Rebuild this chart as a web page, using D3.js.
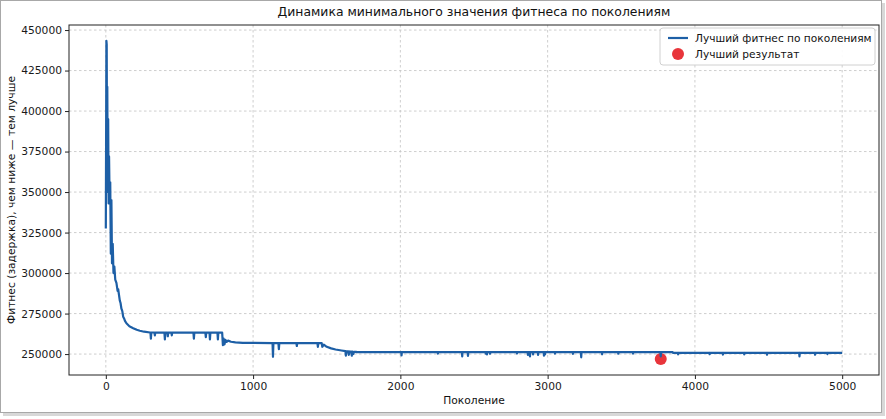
<!DOCTYPE html>
<html><head><meta charset="utf-8">
<script src="https://cdn.jsdelivr.net/npm/d3@7"></script>
<style>
html,body{margin:0;padding:0;background:#fff;}
svg{display:block;font-family:"DejaVu Sans",sans-serif;}
</style></head>
<body>
<svg id="chart" width="886" height="419"></svg>
<script>
// ---- data ----
const titleText = "Динамика минимального значения фитнеса по поколениям";
const xLabel = "Поколение";
const yLabel = "Фитнес (задержка), чем ниже — тем лучше";
const seriesName = "Лучший фитнес по поколениям";
const bestName = "Лучший результат";
const xTicks = [0, 1000, 2000, 3000, 4000, 5000];
const yTicks = [250000, 275000, 300000, 325000, 350000, 375000, 400000, 425000, 450000];

// early convergence phase [generation, fitness]
const earlyPhase = [
 [0,327500],[4,443300],[6,441000],[8,378000],[10,415000],[13,350000],[16,395000],[19,343000],
 [22,372000],[26,344000],[30,356000],[34,312000],[38,345000],[42,306000],[47,318000],[52,300000],
 [58,304000],[64,296000],[72,294000],[80,289000],[84,290000],[95,283000],[100,281500],[106,278000],
 [112,276500],[118,273000],[124,272000],[130,270500],
 [140,269000],[160,267200],[186,266000],[210,265000],[231,264400],[260,263800],[300,263300]
];
// first plateau with dips
const plateau1 = [
 [303,263300],[306,259500],[309,263300],[330,263300],[333,261500],[336,263200],[398,263200],[401,259000],
 [404,263200],[418,263200],[421,261000],[424,263200],[445,263200],[448,261500],[451,263200],[595,263200],
 [598,259500],[601,263200],[676,263200],[679,260500],[682,263200],[704,263200],[707,259000],[710,263200],
 [758,263200],[761,259000],[764,263200],[790,263200]
];
// transition around generation 800
const transition1 = [
 [795,255500],[800,259500],[806,256000],[812,258800],[820,257500],[830,258300],[850,257600],
 [880,257200],[930,256900]
];
// second plateau with dips
const plateau2 = [
 [1132,256800],[1135,248300],[1138,256800],[1172,256800],[1175,253000],[1178,256800],[1294,256800],
 [1297,255000],[1300,256800],[1437,256800],[1440,254500],[1443,256800],[1466,256700]
];
// decline after generation 1466
const transition2 = [
 [1470,254500],[1480,255800],[1500,254500],[1530,253500],[1560,252800],[1600,252200],[1627,251800],
 [1630,249000],[1635,251700],[1647,251700],[1650,249500],[1655,251600],[1667,251500],[1670,249000],
 [1675,251500],[1680,250000],[1685,251400],[1700,251300]
];
// third plateau, dips [generation, dip value]
const plateau3Level = 251200;
const plateau3Dips = [
 [2008,249200],[2255,250300],[2420,248600],[2459,248900],[2580,250300],[2588,249800],[2609,250200],
 [2792,250400],[2866,249500],[2880,248600],[2901,249800],[2935,249500],[2975,249000],[2982,249800],
 [3050,250300],[3172,250100],[3228,248000],[3370,249900],[3480,250200],[3580,250300],[3768,248600]
];
const plateau4Start = 3850;
const plateau4Level = 250700;
const plateau4Dips = [
 [3886,249800],[4100,249900],[4190,249700],[4335,249800],[4490,249600],[4710,248600],[4816,249600],[4900,250000]
];
const lastGeneration = 5000;
const bestPoint = [3768, 246900];

// ---- assemble series ----
function dipsOn(level, dips){
  const out = [];
  dips.forEach(([g,v]) => { out.push([g-2, level],[g, v],[g+2, level]); });
  return out;
}
const series = [].concat(
  earlyPhase, plateau1, transition1, plateau2, transition2,
  [[1700, plateau3Level]], dipsOn(plateau3Level, plateau3Dips), [[plateau4Start-1, plateau3Level],[plateau4Start+1, plateau4Level]],
  dipsOn(plateau4Level, plateau4Dips), [[lastGeneration, plateau4Level]]
);

// ---- layout ----
const svg = d3.select("#chart");
const m = {l:69, r:879, t:25, b:375};

// frame with soft shadow
svg.append("rect").attr("x",3).attr("y",3).attr("width",882).attr("height",413).attr("fill","#d8d8d8");
svg.append("rect").attr("x",0.5).attr("y",0.5).attr("width",881).attr("height",412)
  .attr("fill","#fff").attr("stroke","#a8a8a8").attr("stroke-width",1);

const allY = series.map(d=>d[1]).concat([bestPoint[1]]);
const yMin = d3.min(allY), yMax = d3.max(allY), yPad = (yMax-yMin)*0.05;
const x = d3.scaleLinear().domain([-250, 5250]).range([m.l, m.r]);
const y = d3.scaleLinear().domain([yMin-yPad, yMax+yPad]).range([m.b, m.t]);

// grid
const grid = svg.append("g");
xTicks.forEach(t => grid.append("line").attr("x1",x(t)).attr("x2",x(t)).attr("y1",m.t).attr("y2",m.b)
  .attr("stroke","#c8c8c8").attr("stroke-width",0.9).attr("stroke-dasharray","2.5,2.5"));
yTicks.forEach(t => grid.append("line").attr("x1",m.l).attr("x2",m.r).attr("y1",y(t)).attr("y2",y(t))
  .attr("stroke","#c8c8c8").attr("stroke-width",0.9).attr("stroke-dasharray","2.5,2.5"));

// axes
const xAxis = svg.append("g").attr("transform",`translate(0,${m.b})`)
  .call(d3.axisBottom(x).tickValues(xTicks).tickSize(4).tickPadding(3).tickFormat(d3.format("d")));
const yAxis = svg.append("g").attr("transform",`translate(${m.l},0)`)
  .call(d3.axisLeft(y).tickValues(yTicks).tickSize(4).tickPadding(3).tickFormat(d3.format("d")));
[xAxis,yAxis].forEach(a => {
  a.select(".domain").remove();
  a.selectAll("line").attr("stroke","#222");
  a.selectAll("text").attr("fill","#1a1a1a").style("font-size","10.7px").style("font-family","DejaVu Sans");
});

// best point (under the line)
svg.append("circle").attr("cx",x(bestPoint[0])).attr("cy",y(bestPoint[1])).attr("r",6).attr("fill","#e8353b");

// line
const line = d3.line().x(d=>x(d[0])).y(d=>y(d[1]));
svg.append("path").datum(series).attr("d",line).attr("fill","none")
  .attr("stroke","#1d5fa6").attr("stroke-width",2.2).attr("stroke-linejoin","round");

// spines
svg.append("rect").attr("x",m.l).attr("y",m.t).attr("width",m.r-m.l).attr("height",m.b-m.t)
  .attr("fill","none").attr("stroke","#222").attr("stroke-width",1);

// title & labels
svg.append("text").attr("x",(m.l+m.r)/2).attr("y",16).attr("text-anchor","middle")
  .style("font-size","12.4px").attr("fill","#111").text(titleText);
svg.append("text").attr("x",(m.l+m.r)/2).attr("y",404).attr("text-anchor","middle")
  .style("font-size","10.7px").attr("fill","#111").text(xLabel);
svg.append("text").attr("transform",`translate(15,${(m.t+m.b)/2}) rotate(-90)`).attr("text-anchor","middle")
  .style("font-size","10.7px").attr("fill","#111").text(yLabel);

// legend
const lg = svg.append("g").attr("transform","translate(660,28)");
lg.append("rect").attr("width",215).attr("height",37).attr("rx",3).attr("fill","#fff")
  .attr("stroke","#d0d0d0").attr("stroke-width",1).attr("fill-opacity",0.9);
lg.append("line").attr("x1",8).attr("x2",28).attr("y1",10).attr("y2",10).attr("stroke","#1d5fa6").attr("stroke-width",2.2);
lg.append("circle").attr("cx",18).attr("cy",26).attr("r",6).attr("fill","#e8353b");
lg.append("text").attr("x",35).attr("y",14).style("font-size","10.6px").attr("fill","#111").text(seriesName);
lg.append("text").attr("x",35).attr("y",30).style("font-size","10.6px").attr("fill","#111").text(bestName);
</script>
</body></html>
